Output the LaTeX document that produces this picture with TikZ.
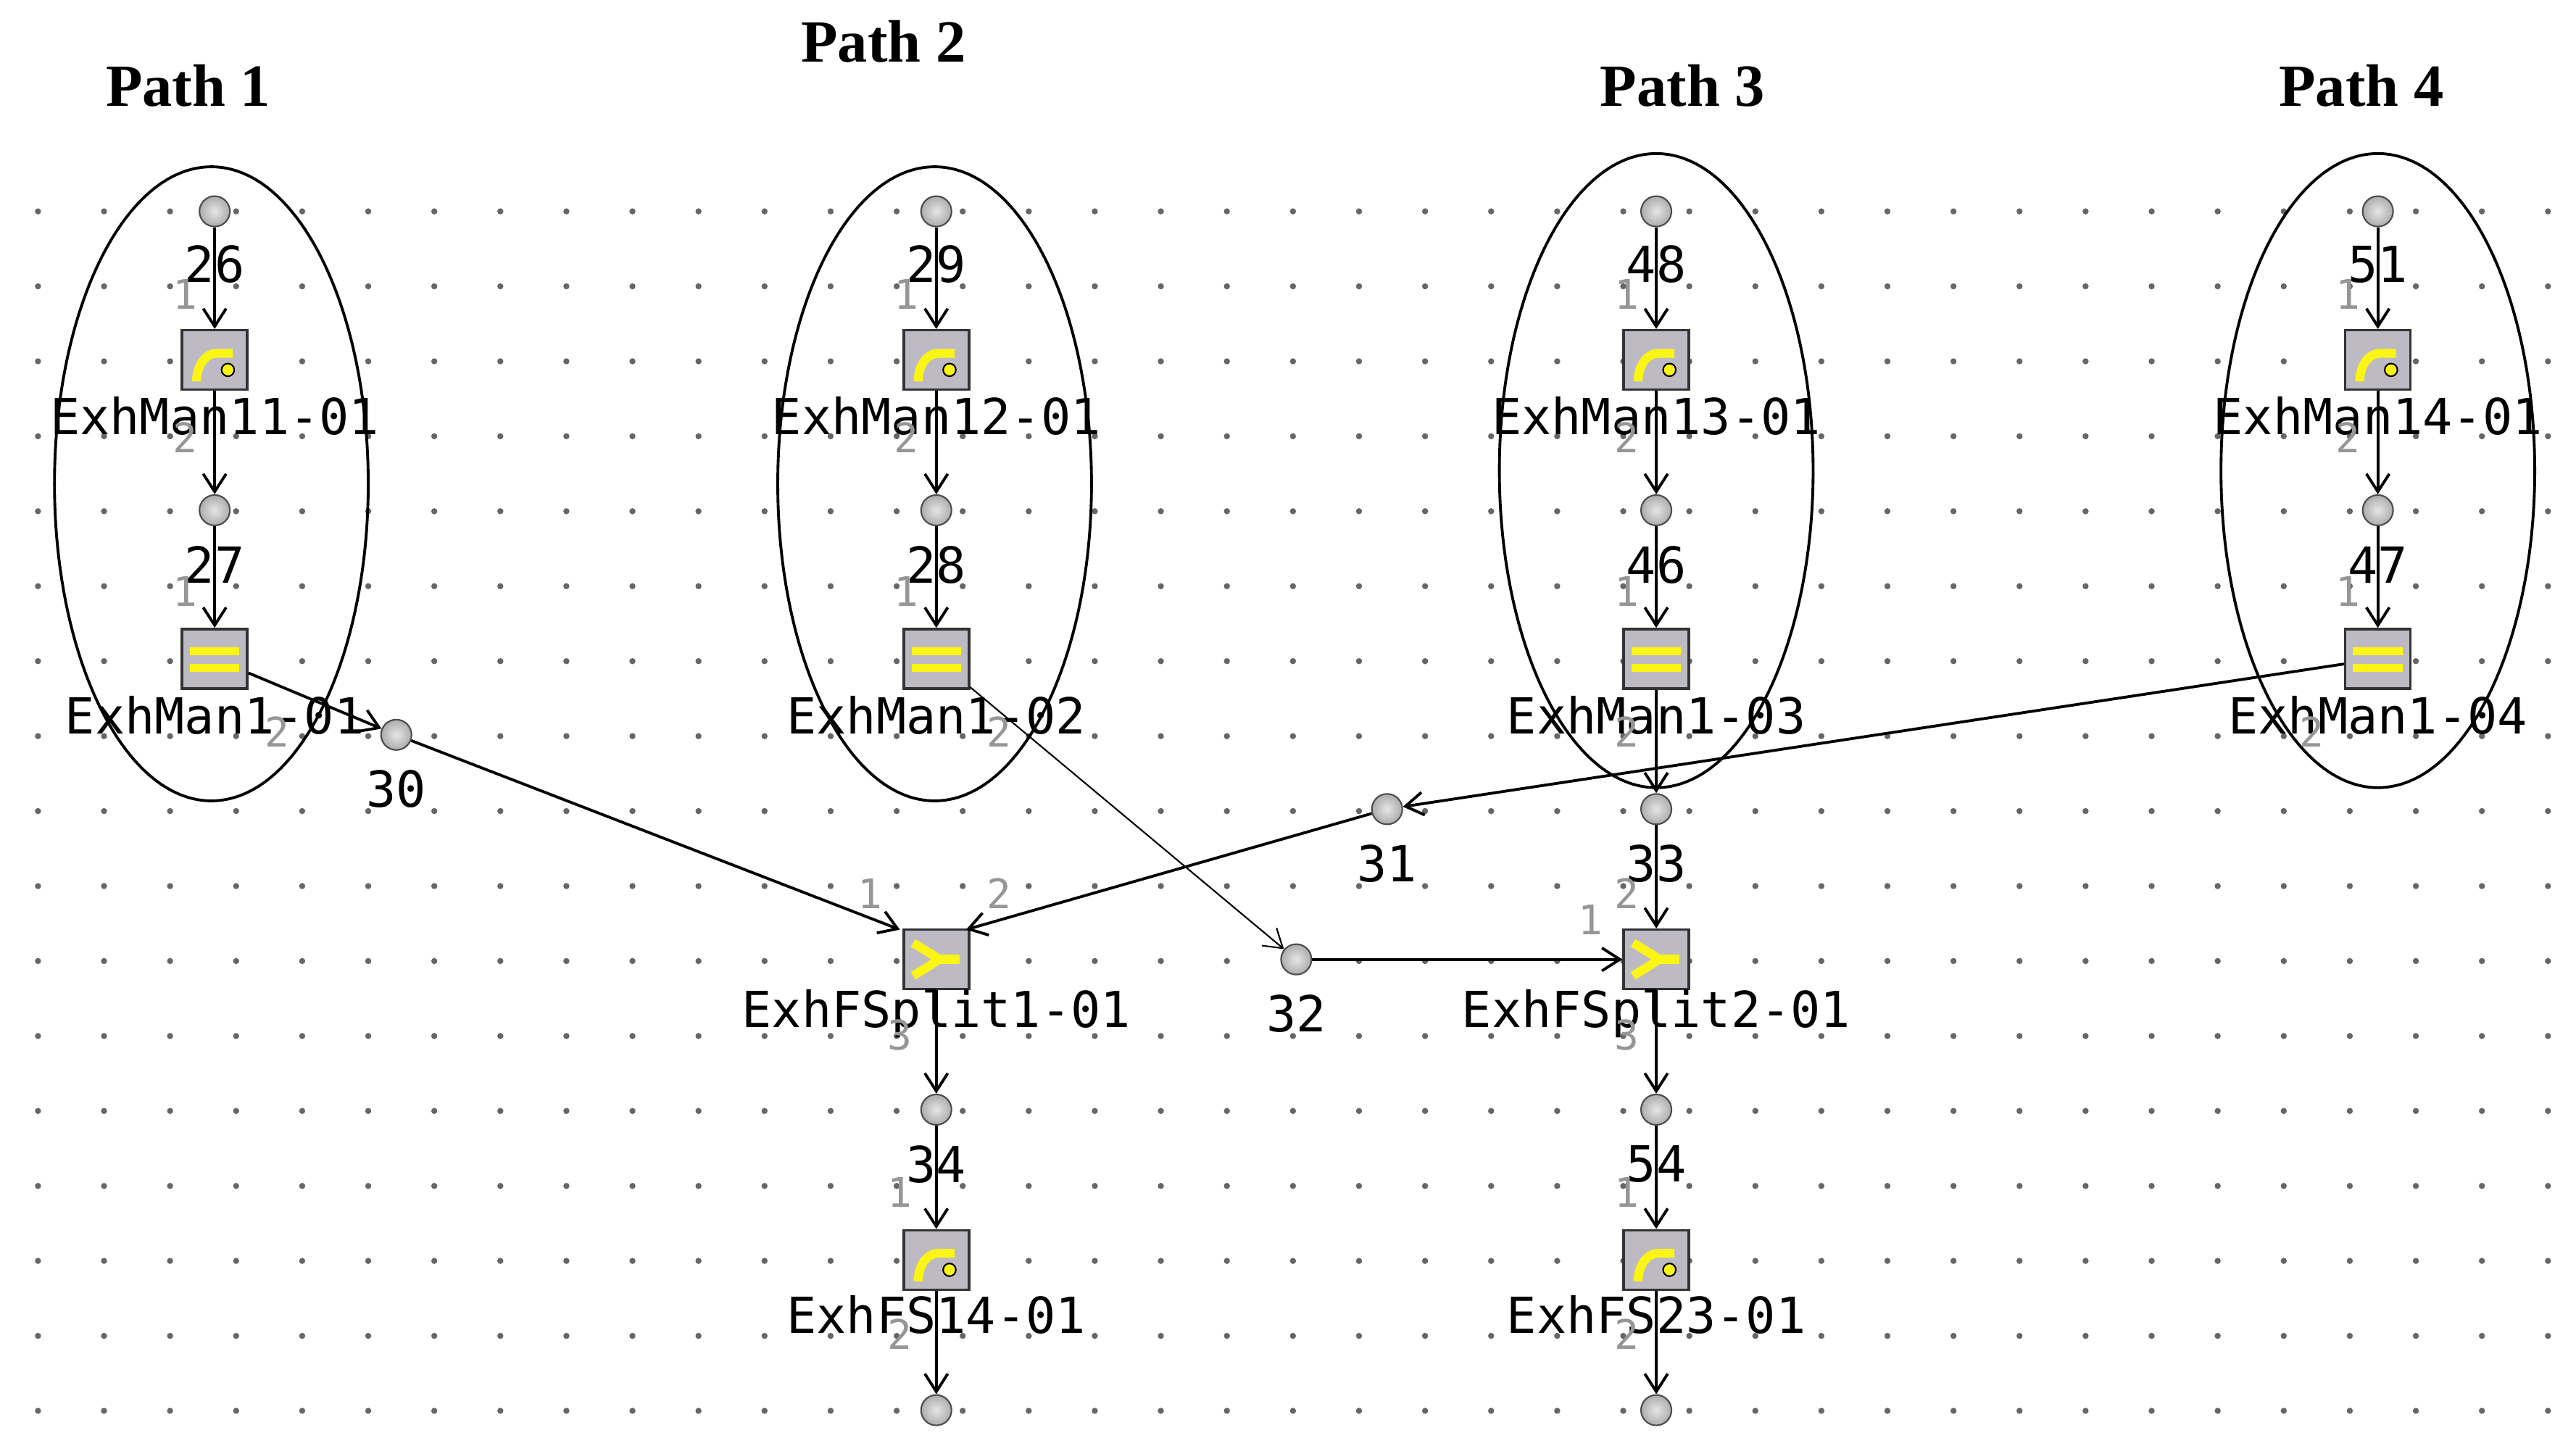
\documentclass[tikz,border=0pt]{standalone}
\usepackage{fontspec}
\setmainfont{Liberation Serif}
\newfontfamily\monofont{DejaVu Sans Mono}
\usetikzlibrary{arrows.meta,calc}
\definecolor{boxgray}{RGB}{190,186,196}
\definecolor{iconyel}{RGB}{250,245,20}
\definecolor{portgray}{RGB}{150,150,150}
\begin{document}
\begin{tikzpicture}[x=0.02278cm,y=-0.02278cm,
  >={Straight Barb[length=7pt,width=9pt]},
  flow/.style={->,line width=1.1pt},
  thinflow/.style={->,line width=0.6pt},
  junc/.style={circle,draw=black!70,line width=0.6pt,inner sep=0pt,minimum size=0.42cm,
    shading=radial,inner color=gray!20,outer color=gray!65},
  comp/.style={rectangle,draw=black!80,line width=1pt,fill=boxgray,inner sep=0pt,minimum width=0.9cm,minimum height=0.82cm},
  lbl/.style={font=\monofont\fontsize{19.5}{19.5}\selectfont},
  port/.style={font=\monofont\fontsize{16}{16}\selectfont,text=portgray},
  title/.style={font=\bfseries\fontsize{23.5}{23.5}\selectfont}]
\useasboundingbox (0,0) rectangle (1560,870.5);
\fill[white] (0,0) rectangle (1560,870.5);
% grid dots
\foreach \gy in {128,173.4,...,860} \foreach \gx in {23,63,...,1555}
  \fill[black!60] (\gx,\gy) circle (1.2pt);

% titles
\node[title] at (114,52) {Path 1};
\node[title] at (535,25) {Path 2};
\node[title] at (1019,52) {Path 3};
\node[title] at (1430,52) {Path 4};

% four input paths
\foreach \x/\p/\q/\a/\b/\c in {130/26/27/11/1/01,567/29/28/12/2/02,1003/48/46/13/3/03,1440/51/47/14/4/04}{
  \node[junc] (n\p) at (\x,128) {};
  \node[comp] (fs\a) at (\x,218) {};
  \node[junc] (n\q) at (\x,309) {};
  \node[comp] (man\b) at (\x,399) {};
  \node[lbl] at (\x,160) {\p};
  \node[lbl] at (\x,342) {\q};
  \node[lbl] at (\x,252) {ExhMan\a-01};
  \node[lbl] at (\x,433) {ExhMan1-\c};
  \node[port] at (\x-18,178) {1};
  \node[port] at (\x-18,265) {2};
  \node[port] at (\x-18,358) {1};
  \draw[flow] (n\p) -- (fs\a);
  \draw[flow] (fs\a) -- (n\q);
  \draw[flow] (n\q) -- (man\b);
}
\foreach \x/\y in {128/293,566/293,1003/285,1440/285}
  \draw[line width=1.1pt] (\x,\y) ellipse (95 and 192);

% merge part
\node[junc] (n30) at (240,445) {};
\node[lbl] at (240,478) {30};
\node[junc] (n31) at (840,490) {};
\node[lbl] at (840,523) {31};
\node[junc] (n32) at (785,581) {};
\node[lbl] at (785,614) {32};
\node[junc] (n33) at (1003,490) {};
\node[lbl] at (1003,523) {33};
\node[comp] (split1) at (567,581) {};
\node[comp] (split2) at (1003,581) {};
\node[lbl] at (567,614) {ExhFSplit1-01};
\node[lbl] at (1003,614) {ExhFSplit2-01};
\node[junc] (n34) at (567,672) {};
\node[lbl] at (567,705) {34};
\node[junc] (n54) at (1003,672) {};
\node[lbl] at (1003,705) {54};
\node[comp] (fs23) at (567,763) {};
\node[comp] (fs24) at (1003,763) {};
\node[lbl] at (567,796) {ExhFS14-01};
\node[lbl] at (1003,796) {ExhFS23-01};
\node[junc] (out1) at (567,854) {};
\node[junc] (out2) at (1003,854) {};

\coordinate (s1a) at (545,563);
\coordinate (s1b) at (585,563);
\draw[flow] (man1) -- (n30);
\draw[flow] (n30) -- (s1a);
\draw[flow] (man4) -- (n31);
\draw[flow] (n31) -- (s1b);
\draw[thinflow] (man2) -- (n32);
\draw[flow] (n32) -- (split2);
\draw[flow] (man3) -- (n33);
\draw[flow] (n33) -- (split2);
\draw[flow] (split1) -- (n34);
\draw[flow] (n34) -- (fs23);
\draw[flow] (fs23) -- (out1);
\draw[flow] (split2) -- (n54);
\draw[flow] (n54) -- (fs24);
\draw[flow] (fs24) -- (out2);

% port numbers
\foreach \x/\y/\t in {168/443/2,605/443/2,985/443/2,1400/443/2,527/541/1,605/541/2,
  985/541/2,963/557/1,545/627/3,985/627/3,545/722/1,985/722/1,545/808/2,985/808/2}
  \node[port] at (\x,\y) {\t};

% icons
\foreach \c in {fs11,fs12,fs13,fs14,fs23,fs24}{
  \draw[iconyel,line width=3.5pt] ($(\c)+(-11,13)$) arc (180:270:12 and 17) -- ++(10,0);
  \fill[iconyel] ($(\c)+(8,6)$) circle (2.5pt);
  \draw[black,line width=0.6pt] ($(\c)+(8,6)$) circle (2.5pt);
}
\foreach \c in {man1,man2,man3,man4}{
  \fill[iconyel] ($(\c)+(-15,-7)$) rectangle ($(\c)+(15,-2)$);
  \fill[iconyel] ($(\c)+(-15,3)$) rectangle ($(\c)+(15,8)$);
}
\foreach \c in {split1,split2}{
  \draw[iconyel,line width=3.5pt] ($(\c)+(-14,-10)$) -- ($(\c)+(2,0)$) -- ($(\c)+(-14,10)$);
  \draw[iconyel,line width=3.5pt] ($(\c)+(2,0)$) -- ($(\c)+(14,0)$);
}
\end{tikzpicture}
\end{document}
